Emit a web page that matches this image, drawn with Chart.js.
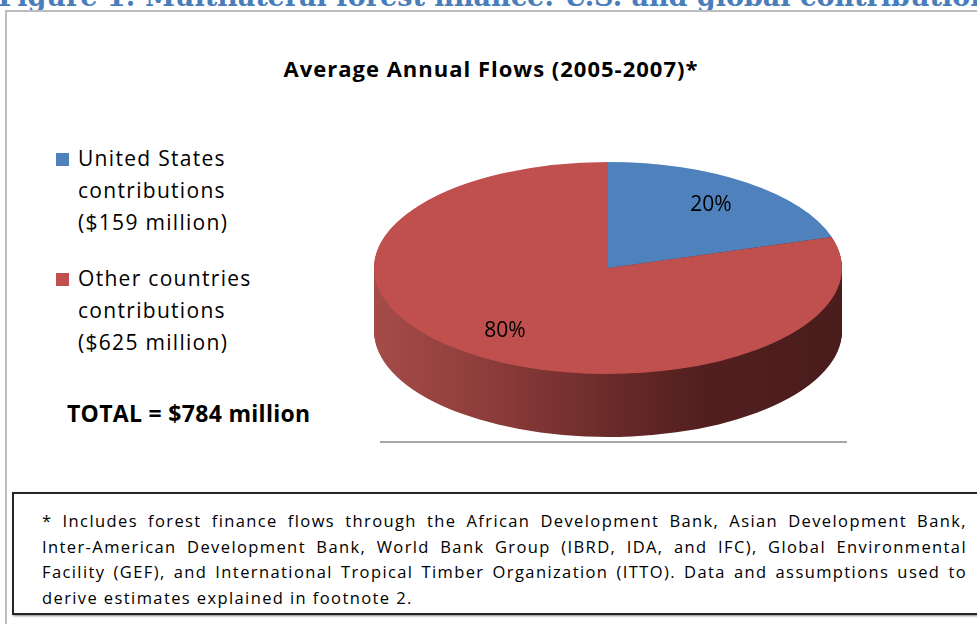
<!DOCTYPE html>
<html>
<head>
<meta charset="utf-8">
<script src="https://cdn.jsdelivr.net/npm/chart.js@4.4.1/dist/chart.umd.min.js"></script>
<style>
html,body{margin:0;padding:0;background:#fff;}
body{width:977px;height:624px;overflow:hidden;position:relative;font-family:'Open Sans',sans-serif;color:#000;}
#heading{position:absolute;left:-2px;top:-17px;white-space:nowrap;font-family:'DejaVu Serif',serif;font-weight:bold;font-size:27px;line-height:27px;color:#4a7ebb;}
#frame{position:absolute;left:5px;top:10px;width:2000px;height:2000px;border:2px solid #bdbdbd;box-shadow:1px 1px 1px #e0e0e0;}
#title{position:absolute;left:0;width:977px;top:54px;text-align:center;font-weight:bold;font-size:22px;line-height:28px;letter-spacing:1px;white-space:nowrap;padding-left:5px;box-sizing:border-box;}
.leg{position:absolute;left:78px;font-size:21px;line-height:32px;letter-spacing:1.3px;white-space:nowrap;}
.sq{position:absolute;left:56px;width:13px;height:13px;}
#total{position:absolute;left:67px;top:398px;font-weight:bold;font-size:23px;line-height:30px;letter-spacing:0.3px;white-space:nowrap;}
#floor{position:absolute;left:380px;top:441px;width:467px;height:2px;background:#a8a8a8;}
#note{position:absolute;left:12px;top:492px;width:2000px;height:119px;border:2px solid #262626;box-shadow:1px 1px 2px #888;}
.nl{position:absolute;width:925px;font-size:16.5px;line-height:25.7px;letter-spacing:1.4px;white-space:nowrap;text-align:justify;text-align-last:justify;}
.nl.last{text-align:left;text-align-last:left;}
canvas{position:absolute;left:0;top:0;}
</style>
</head>
<body>
<div id="heading">Figure 1: Multilateral forest finance: U.S. and global contributions</div>
<div id="frame"></div>
<div id="title"></div>
<div id="legend"></div>
<div id="total"></div>
<div id="floor"></div>
<div id="note"></div>
<canvas id="c" width="977" height="624"></canvas>
<script>
// ---- data ----
const categories = ['United States contributions ($159 million)', 'Other countries contributions ($625 million)'];
const legendLines = [['United States', 'contributions', '($159 million)'], ['Other countries', 'contributions', '($625 million)']];
const values = [159, 625];
const percentLabels = ['20%', '80%'];
const sliceColors = ['#4F81BD', '#C0504D'];
const chartTitle = 'Average Annual Flows (2005-2007)*';
const totalLabel = 'TOTAL = $784 million';
const footnoteLines = [
  '* Includes forest finance flows through the African Development Bank, Asian Development Bank,',
  'Inter-American Development Bank, World Bank Group (IBRD, IDA, and IFC), Global Environmental',
  'Facility (GEF), and International Tropical Timber Organization (ITTO). Data and assumptions used to',
  'derive estimates explained in footnote 2.'
];

// ---- text parts ----
document.getElementById('title').textContent = chartTitle;
document.getElementById('total').textContent = totalLabel;
const legendEl = document.getElementById('legend');
const legendTops = [142, 262];
legendLines.forEach((lines, i) => {
  const sq = document.createElement('div');
  sq.className = 'sq';
  sq.style.top = (legendTops[i] + 11) + 'px';
  sq.style.background = sliceColors[i];
  legendEl.appendChild(sq);
  const t = document.createElement('div');
  t.className = 'leg';
  t.style.top = legendTops[i] + 'px';
  t.innerHTML = lines.map(s => s.replace(/&/g, '&amp;')).join('<br>');
  legendEl.appendChild(t);
});
const noteEl = document.getElementById('note');
footnoteLines.forEach((s, i) => {
  const d = document.createElement('div');
  d.className = 'nl' + (i === footnoteLines.length - 1 ? ' last' : '');
  d.style.left = '28px';
  d.style.top = (14 + i * 25.7) + 'px';
  d.textContent = s;
  noteEl.appendChild(d);
});

// ---- 3D pie plugin ----
const pie3d = {
  id: 'pie3d',
  beforeDatasetsDraw(chart, args, opts) {
    const ctx = chart.ctx;
    const arcs = chart.getDatasetMeta(0).data;
    if (!arcs.length) return;
    const c = arcs[0].getProps(['x', 'y', 'outerRadius'], true);
    const apply = () => {
      ctx.translate(c.x, c.y);
      ctx.scale(opts.stretchX, opts.squashY);
      ctx.translate(-c.x, -c.y);
    };
    const grads = arcs.map((a, i) => {
      const g = ctx.createLinearGradient(c.x - c.outerRadius, 0, c.x + c.outerRadius, 0);
      opts.sideStops[i].forEach(([o, col]) => g.addColorStop(o, col));
      return g;
    });
    for (let d = opts.depth; d >= 1; d--) {
      ctx.save();
      ctx.translate(0, d);
      apply();
      arcs.forEach((arc, i) => {
        const p = arc.getProps(['x', 'y', 'startAngle', 'endAngle', 'outerRadius'], true);
        ctx.fillStyle = grads[i];
        ctx.beginPath();
        ctx.moveTo(p.x, p.y);
        ctx.arc(p.x, p.y, p.outerRadius, p.startAngle, p.endAngle);
        ctx.closePath();
        ctx.fill();
      });
      ctx.restore();
    }
    ctx.save();
    apply();
  },
  afterDatasetsDraw(chart, args, opts) {
    const ctx = chart.ctx;
    const arcs = chart.getDatasetMeta(0).data;
    if (!arcs.length) return;
    ctx.restore();
    ctx.save();
    ctx.fillStyle = '#000';
    ctx.font = '21px "Open Sans"';
    ctx.textAlign = 'center';
    ctx.textBaseline = 'middle';
    arcs.forEach((arc, i) => {
      const p = arc.getProps(['x', 'y', 'startAngle', 'endAngle', 'outerRadius'], true);
      const mid = (p.startAngle + p.endAngle) / 2;
      const rr = p.outerRadius * opts.labelRadius;
      const lx = p.x + Math.cos(mid) * rr * opts.stretchX;
      const ly = p.y + Math.sin(mid) * rr * opts.squashY;
      ctx.fillText(percentLabels[i], lx, ly);
    });
    ctx.restore();
  }
};

new Chart(document.getElementById('c'), {
  type: 'pie',
  data: {
    labels: categories,
    datasets: [{
      data: values,
      backgroundColor: sliceColors,
      borderWidth: 0,
      hoverOffset: 0
    }]
  },
  options: {
    responsive: false,
    animation: false,
    devicePixelRatio: 1,
    events: [],
    layout: { padding: { left: 374, right: 135, top: 90, bottom: 178 } },
    plugins: {
      legend: { display: false },
      tooltip: { enabled: false },
      title: { display: false },
      pie3d: {
        stretchX: 234 / 178,
        squashY: 106 / 178,
        depth: 63,
        labelRadius: 0.74,
        sideStops: [
          [[0, '#3d6594'], [0.5, '#2c4a6e'], [1, '#1f3350']],
          [[0, '#a54c49'], [0.25, '#8c3c3a'], [0.5, '#6b2b2a'], [0.7, '#521f1f'], [1, '#4a1c1c']]
        ]
      }
    }
  },
  plugins: [pie3d]
});
</script>
</body>
</html>
